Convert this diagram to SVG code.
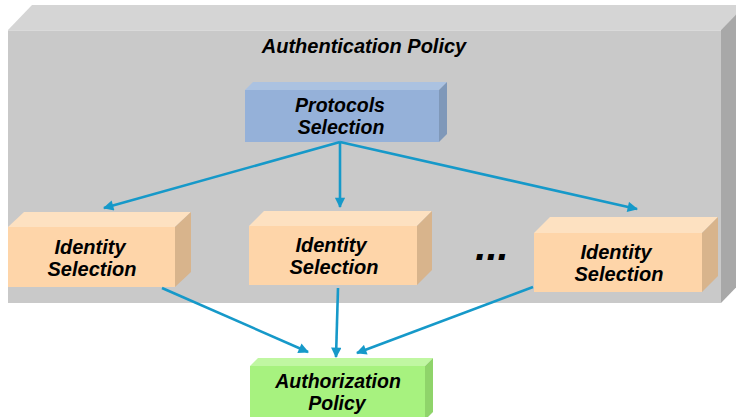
<svg xmlns="http://www.w3.org/2000/svg" width="736" height="417" viewBox="0 0 736 417">
<style>
.t{font-family:"Liberation Sans",Arial,sans-serif;font-weight:bold;font-style:italic;fill:#000;text-anchor:middle}
.c{stroke:#1699c9;stroke-width:2.6;fill:none}
</style>
<defs>
<marker id="ah" viewBox="0 0 10 10" refX="9" refY="5" markerWidth="4.4" markerHeight="4" orient="auto" markerUnits="strokeWidth">
<path d="M0,0L10,5L0,10Z" fill="#1699c9"/>
</marker>
</defs>
<rect width="736" height="417" fill="#fff"/>
<g id="authentication-policy">
<polygon points="8,30 32,5 745,5 721,30" fill="#d5d5d5"/>
<polygon points="721,30 745,5 745,278 721,303" fill="#a8a8a8"/>
<rect x="8" y="30" width="713" height="273" fill="#c9c9c9"/>
<line x1="8" y1="30.5" x2="721" y2="30.5" stroke="#dadada" stroke-width="1"/>
<text class="t" x="364" y="53" font-size="20">Authentication Policy</text>
</g>
<g id="protocols-selection">
<polygon points="245,90 253,82 447,82 439,90" fill="#abc2e1"/>
<polygon points="439,90 447,82 447,134 439,142" fill="#7f98b9"/>
<rect x="245" y="90" width="194" height="52" fill="#95b1d9"/>
<text class="t" x="340" y="112" font-size="19.5">Protocols</text>
<text class="t" x="341" y="134" font-size="19.5">Selection</text>
</g>
<g id="identity-selection-1">
<polygon points="8,227 24,212 191,212 175,227" fill="#fde1c1"/>
<polygon points="175,227 191,212 191,272 175,287" fill="#d8b48c"/>
<rect x="8" y="227" width="167" height="60" fill="#fed5a9"/>
<text class="t" x="90" y="254" font-size="20">Identity</text>
<text class="t" x="92" y="276" font-size="20">Selection</text>
</g>
<g id="identity-selection-2">
<polygon points="249,226 264,211 432,211 417,226" fill="#fde1c1"/>
<polygon points="417,226 432,211 432,270 417,285" fill="#d8b48c"/>
<rect x="249" y="226" width="168" height="59" fill="#fed5a9"/>
<text class="t" x="331" y="252" font-size="20">Identity</text>
<text class="t" x="334" y="274" font-size="20">Selection</text>
</g>
<g id="ellipsis">
<text class="t" x="492" y="260" font-size="40" font-style="normal">...</text>
</g>
<g id="identity-selection-3">
<polygon points="534,233 550,217 718,217 702,233" fill="#fde1c1"/>
<polygon points="702,233 718,217 718,276 702,292" fill="#d8b48c"/>
<rect x="534" y="233" width="168" height="59" fill="#fed5a9"/>
<text class="t" x="616" y="259" font-size="20">Identity</text>
<text class="t" x="619" y="281" font-size="20">Selection</text>
</g>
<g id="authorization-policy">
<polygon points="250,366 258,358 433,358 425,366" fill="#c0f7a2"/>
<polygon points="425,366 433,358 433,412 425,420" fill="#8fd46a"/>
<rect x="250" y="366" width="175" height="54" fill="#a7f27f"/>
<text class="t" x="338" y="388" font-size="19.5">Authorization</text>
<text class="t" x="337" y="410" font-size="19.5">Policy</text>
</g>
<g id="connectors">
<line class="c" x1="340" y1="142" x2="104" y2="208" marker-end="url(#ah)"/>
<line class="c" x1="340" y1="142" x2="340" y2="207" marker-end="url(#ah)"/>
<line class="c" x1="340" y1="142" x2="637" y2="209" marker-end="url(#ah)"/>
<line class="c" x1="162" y1="288" x2="308" y2="352" marker-end="url(#ah)"/>
<line class="c" x1="338" y1="288" x2="336" y2="357" marker-end="url(#ah)"/>
<line class="c" x1="533" y1="287" x2="357" y2="353" marker-end="url(#ah)"/>
</g>
</svg>
